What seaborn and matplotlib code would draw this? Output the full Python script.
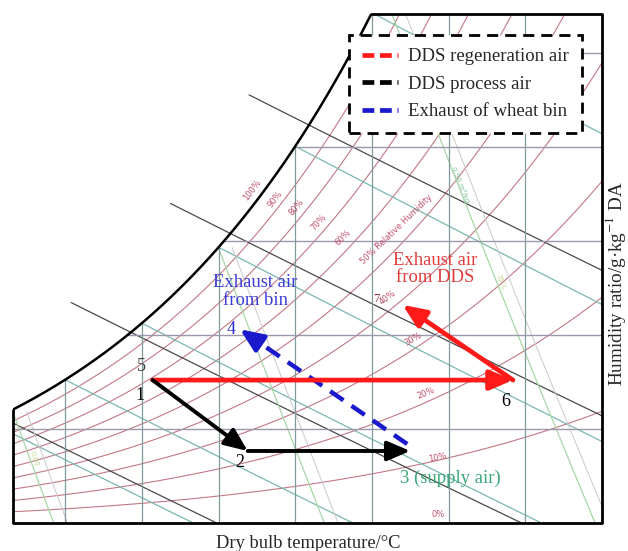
import numpy as np
import pandas as pd
import matplotlib
matplotlib.use("Agg")
import matplotlib.pyplot as plt
import seaborn as sns
from matplotlib.lines import Line2D

# ---- process states: dry bulb (°C) and humidity ratio (g/kg DA) ----
regen_T = [15.7, 39.2, 32.0]        # 1(5) -> 6 -> 7
regen_W = [7.6, 7.6, 11.6]
process_T = [15.7, 21.9, 32.5]      # 1 -> 2 -> 3
process_W = [7.6, 3.83, 3.83]
bin_T = [32.3, 21.4]                # 3 -> 4
bin_W = [4.2, 10.3]

# ---- chart families ----
rh_levels = [0.1, 0.2, 0.3, 0.4, 0.5, 0.6, 0.7, 0.8, 0.9]
enthalpy_levels = [20, 40, 60, 80]            # kJ/kg
wetbulb_levels = [5, 10, 15, 20, 25, 30]      # °C
volume_levels = [0.80, 0.85, 0.90]            # m3/kg
temp_grid = [10, 15, 20, 25, 30, 35, 40]
w_grid = [5, 10, 15, 20, 25]

T_MIN, T_MAX = 6.6, 45.0
W_MIN, W_MAX = 0.0, 27.07
P_ATM = 101325.0

def p_ws(T):
    return 610.94 * np.exp(17.625 * T / (T + 243.04))

def w_of(T, rh=1.0):
    p = rh * p_ws(T)
    return 622.0 * p / (P_ATM - p)

def t_sat_of_w(w):
    Ts = np.linspace(-10, 60, 20001)
    return np.interp(w, w_of(Ts), Ts)

sns.set_theme(style="white")
plt.rcParams["font.family"] = ["Liberation Serif", "DejaVu Serif"]
plt.rcParams["mathtext.fontset"] = "stix"

fig = plt.figure(figsize=(6.28, 5.51), dpi=100)
ax = fig.add_axes([13 / 628, 1 - 523 / 551, 589 / 628, 509 / 551])
ax.set_xlim(T_MIN, T_MAX)
ax.set_ylim(W_MIN, W_MAX)
ax.set_axis_off()

Tline = np.linspace(T_MIN, T_MAX, 400)

# relative humidity curves
rows = []
for rh in rh_levels:
    for t, w in zip(Tline, w_of(Tline, rh)):
        rows.append((rh, t, w))
rh_df = pd.DataFrame(rows, columns=["rh", "T", "W"])
sns.lineplot(data=rh_df, x="T", y="W", units="rh", estimator=None, sort=False,
             color="#b8606e", lw=0.8, alpha=0.85, ax=ax)

# enthalpy lines (extended past saturation on the left)
rows = []
for h in enthalpy_levels:
    Ts = np.linspace(-10, 60, 7001)
    diff = w_of(Ts) - (h - 1.006 * Ts) / (2501 + 1.86 * Ts) * 1000
    t_sat = Ts[np.argmin(np.abs(diff))]
    t_end = h / 1.006
    tt = np.linspace(t_sat - 3.9, t_end, 200)
    ww = (h - 1.006 * tt) / (2501 + 1.86 * tt) * 1000
    for t, w in zip(tt, ww):
        rows.append((h, t, w))
h_df = pd.DataFrame(rows, columns=["h", "T", "W"])
sns.lineplot(data=h_df, x="T", y="W", units="h", estimator=None, sort=False,
             color="#4a4a4a", lw=0.9, ax=ax)

# wet bulb lines
rows = []
for twb in wetbulb_levels:
    ws = w_of(np.array(twb)) / 1000
    tt = np.linspace(twb, 60, 300)
    ww = ((2501 - 2.326 * twb) * ws - 1.006 * (tt - twb)) / (2501 + 1.86 * tt - 4.186 * twb) * 1000
    keep = ww >= 0
    for t, w in zip(tt[keep], ww[keep]):
        rows.append((twb, t, w))
wb_df = pd.DataFrame(rows, columns=["twb", "T", "W"])
sns.lineplot(data=wb_df, x="T", y="W", units="twb", estimator=None, sort=False,
             color="#7ab8b2", lw=0.9, ax=ax)

# specific volume lines
rows = []
for v in volume_levels:
    ww = np.linspace(0, 30, 300)
    tt = v * P_ATM / 1000 / (0.287042 * (1 + 1.6078 * ww / 1000)) - 273.15
    keep = ww <= w_of(tt)
    for t, w in zip(tt[keep], ww[keep]):
        rows.append((v, t, w))
v_df = pd.DataFrame(rows, columns=["v", "T", "W"])
sns.lineplot(data=v_df, x="T", y="W", units="v", estimator=None, sort=False,
             color="#a9d6a6", lw=0.9, ax=ax)
# companion lines to the right of the volume lines
v_df2 = v_df.copy()
v_df2["T"] = v_df2["T"] + 0.9
sns.lineplot(data=v_df2, x="T", y="W", units="v", estimator=None, sort=False,
             color="#c9c9c9", lw=0.7, ax=ax)

# dry bulb grid
for t in temp_grid:
    ax.plot([t, t], [0, min(w_of(np.array(t)), W_MAX)], color="#7f9c9c", lw=0.9)
# humidity ratio grid
for w in w_grid:
    ax.plot([t_sat_of_w(w), T_MAX], [w, w], color="#9c98ac", lw=1.0)

# chart frame and saturation curve
t_top = t_sat_of_w(W_MAX)
ts = np.linspace(T_MIN, t_top, 300)
ax.plot(ts, w_of(ts), color="black", lw=1.8, solid_capstyle="butt")
ax.plot([T_MIN, T_MIN, T_MAX, T_MAX, t_top],
        [w_of(np.array(T_MIN)), W_MIN, W_MIN, W_MAX, W_MAX],
        color="black", lw=2.0, clip_on=False)

# relative humidity labels
rh_text = [("100%", 22.2, 17.7, 53), ("90%", 23.7, 17.2, 52), ("80%", 25.1, 16.8, 50),
           ("70%", 26.5, 16.0, 48), ("60%", 28.1, 15.2, 46),
           ("50% Relative Humidity", 31.6, 15.6, 44), ("40%", 31.0, 12.0, 36),
           ("30%", 32.7, 9.8, 30), ("20%", 33.5, 6.9, 22), ("10%", 34.3, 3.5, 12),
           ("0%", 34.3, 0.45, 0)]
for s, x, y, r in rh_text:
    ax.text(x, y, s, color="#c0506a", fontsize=6, rotation=r, ha="center", va="center",
            family=["DejaVu Sans"])
ax.text(35.8, 18.0, "0.90 m³/kg", color="#7fbf9a", fontsize=5, rotation=-68,
        ha="center", va="center", family=["DejaVu Sans"])
ax.text(38.4, 12.8, "35°C", color="#c8d890", fontsize=5, rotation=-68,
        ha="center", va="center", family=["DejaVu Sans"])
ax.text(8.0, 3.4, "0.80", color="#bcd890", fontsize=5, rotation=-70,
        ha="center", va="center", family=["DejaVu Sans"])

# process arrows
head = "-|>,head_length=0.7,head_width=0.3"
ax.annotate("", xy=(regen_T[1], regen_W[1]), xytext=(regen_T[0], regen_W[0]),
            arrowprops=dict(arrowstyle=head, color="#ff1a1a", lw=3.4, mutation_scale=20,
                            shrinkA=0, shrinkB=0))
ax.annotate("", xy=(regen_T[2], regen_W[2]), xytext=(regen_T[1], regen_W[1]),
            arrowprops=dict(arrowstyle=head, color="#ff1a1a", lw=3.4, mutation_scale=20,
                            shrinkA=0, shrinkB=0))
ax.annotate("", xy=(process_T[1], process_W[1]), xytext=(process_T[0], process_W[0]),
            arrowprops=dict(arrowstyle=head, color="black", lw=2.8, mutation_scale=20,
                            shrinkA=0, shrinkB=0))
ax.annotate("", xy=(process_T[2], process_W[2]), xytext=(process_T[1], process_W[1]),
            arrowprops=dict(arrowstyle=head, color="black", lw=2.8, mutation_scale=20,
                            shrinkA=0, shrinkB=0))
bin_df = pd.DataFrame({"T": bin_T, "W": bin_W})
sns.lineplot(data=bin_df, x="T", y="W", sort=False, color="#1a1acc", lw=3.2,
             dashes=False, ax=ax)
ax.lines[-1].set_dashes((3.6, 2.2))
ax.lines[-1].set_solid_capstyle("butt")
tip_back = (bin_T[1] + 0.12 * (bin_T[0] - bin_T[1]), bin_W[1] + 0.12 * (bin_W[0] - bin_W[1]))
ax.annotate("", xy=(bin_T[1], bin_W[1]), xytext=tip_back,
            arrowprops=dict(arrowstyle=head, color="#1a1acc", lw=3.2, mutation_scale=20,
                            shrinkA=0, shrinkB=0))

# state labels
lab = dict(fontsize=13, ha="center", va="center")
ax.text(15.0, 8.3, "5", color="#404040", **lab)
ax.text(14.9, 6.8, "1", color="black", **lab)
ax.text(21.4, 3.24, "2", color="black", **lab)
ax.text(38.7, 6.44, "6", color="black", **lab)
ax.text(20.8, 10.27, "4", color="#2a2ad0", **lab)
ax.text(30.3, 11.9, "7", color="#a03040", fontsize=9, ha="center", va="center")
ax.text(31.85, 2.4, "3 (supply air)", color="#3aa878", fontsize=13.4, ha="left", va="center")
ax.text(22.4, 12.3, "Exhaust air\nfrom bin", color="#3a3ad8", fontsize=13.4, ha="center",
        va="center", linespacing=1.05)
ax.text(34.1, 13.5, "Exhaust air\nfrom DDS", color="#e03a3a", fontsize=13.4, ha="center",
        va="center", linespacing=1.05)

# legend
handles = [Line2D([], [], color="#ff1a1a", lw=3.4, dashes=(2.5, 1.2)),
           Line2D([], [], color="black", lw=3.4, dashes=(2.5, 1.2)),
           Line2D([], [], color="#1a1acc", lw=3.4, dashes=(2.5, 1.2))]
labels = ["DDS regeneration air", "DDS process air", "Exhaust of wheat bin"]
leg = ax.legend(handles, labels, loc="upper right", bbox_to_anchor=(0.966, 0.9587),
                borderaxespad=0, fontsize=13.5, handlelength=1.9, labelspacing=0.55,
                borderpad=0.7, handletextpad=0.55, fancybox=False, framealpha=1)
fr = leg.get_frame()
fr.set_edgecolor("black")
fr.set_linewidth(2.0)
fr.set_linestyle((0, (4, 2.5)))

fig.text(308 / 628, 1 - 543 / 551, "Dry bulb temperature/°C", fontsize=13.3,
         ha="center", va="center")
fig.text(616 / 628, 1 - 284 / 551, "Humidity ratio/g·kg$^{-1}$ DA", fontsize=13.8,
         ha="center", va="center", rotation=90)

fig.savefig("out.png", dpi=100, facecolor="white")
